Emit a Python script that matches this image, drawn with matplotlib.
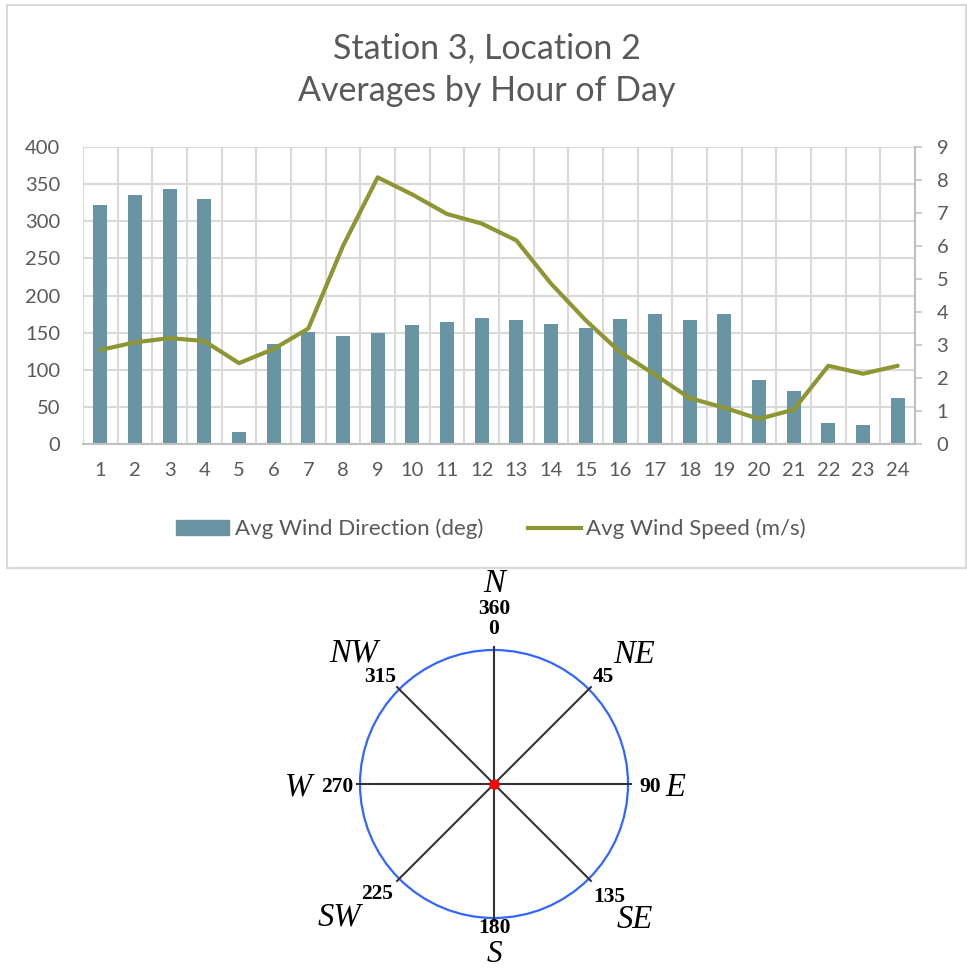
import numpy as np
import matplotlib
matplotlib.use("Agg")
import matplotlib.pyplot as plt
from matplotlib.patches import Rectangle, Circle, Patch
from matplotlib.lines import Line2D

# hourly averages
hours = list(range(1, 25))
wind_dir = [322, 336, 343, 330, 16, 135, 151, 146, 149, 160, 164, 170,
            167, 162, 156, 168, 175, 167, 175, 86, 72, 28, 26, 62]
wind_speed = [2.85, 3.08, 3.21, 3.12, 2.45, 2.88, 3.5, 6.0, 8.08, 7.56, 6.97, 6.68,
              6.17, 4.86, 3.75, 2.78, 2.1, 1.39, 1.1, 0.76, 1.04, 2.37, 2.13, 2.37]
dir_ticks = [0, 50, 100, 150, 200, 250, 300, 350, 400]
speed_ticks = [0, 1, 2, 3, 4, 5, 6, 7, 8, 9]
title_lines = ["Station 3, Location 2", "Averages by Hour of Day"]
series_names = ["Avg Wind Direction (deg)", "Avg Wind Speed (m/s)"]

# compass rose
compass_deg = [0, 45, 90, 135, 180, 225, 270, 315]
compass_names = ["N", "NE", "E", "SE", "S", "SW", "W", "NW"]
full_turn = 360

BAR = "#6894a4"
LINE = "#8e9533"
GRID = "#d9d9d9"
AXIS = "#bfbfbf"
TEXT = "#595959"
W, H = 967, 971


def fig_box(left, top, right, bottom):
    """pixel box -> figure fraction rect"""
    return [left / W, 1 - bottom / H, (right - left) / W, (bottom - top) / H]


def main():
    plt.rcParams["font.family"] = ["Lato", "DejaVu Sans"]
    fig = plt.figure(figsize=(W / 100, H / 100), dpi=100)

    # chart frame
    fig.add_artist(Rectangle((7 / W, 1 - 568 / H), 959 / W, 563 / H,
                             transform=fig.transFigure, fill=False,
                             edgecolor=GRID, lw=1.5))
    fig.text(486.5 / W, 1 - 58 / H, title_lines[0], ha="center", va="baseline",
             fontsize=24.5, color=TEXT)
    fig.text(486.5 / W, 1 - 101 / H, title_lines[1], ha="center", va="baseline",
             fontsize=24.5, color=TEXT)

    ax = fig.add_axes(fig_box(83, 147, 915, 444))
    ax.bar(hours, wind_dir, width=0.4, color=BAR, zorder=2)
    ax.set_xlim(0.5, 24.5)
    ax.set_ylim(0, 400)
    ax.set_yticks(dir_ticks)
    ax.set_xticks(hours)
    ax.set_xticks(np.arange(0.5, 25, 1), minor=True)
    ax.set_axisbelow(True)
    ax.grid(axis="y", which="major", color=GRID, lw=1.5)
    ax.grid(axis="x", which="minor", color=GRID, lw=1.5)
    ax.tick_params(axis="both", which="both", length=0, labelsize=14.5,
                   labelcolor=TEXT)
    ax.tick_params(axis="y", pad=16.5)
    ax.tick_params(axis="x", pad=13)
    for side in ["top", "right", "left"]:
        ax.spines[side].set_visible(False)
    ax.spines["bottom"].set_color(AXIS)
    ax.spines["bottom"].set_linewidth(1.5)

    ax2 = ax.twinx()
    ax2.plot(hours, wind_speed, color=LINE, lw=3, solid_capstyle="round",
             zorder=3)
    ax2.set_ylim(0, 9)
    ax2.set_yticks(speed_ticks)
    ax2.tick_params(axis="y", length=5, width=1.1, color=AXIS, pad=10.5,
                    labelsize=14.5, labelcolor=TEXT)
    for side in ["top", "left", "bottom"]:
        ax2.spines[side].set_visible(False)
    ax2.spines["right"].set_color(AXIS)
    ax2.spines["right"].set_linewidth(1.5)

    handles = [Patch(color=BAR), Line2D([], [], color=LINE, lw=3)]
    fig.legend(handles, series_names, ncol=2, loc="center",
               bbox_to_anchor=(491 / W, 1 - 529 / H), frameon=False,
               fontsize=16, labelcolor=TEXT, handlelength=2.4,
               handletextpad=0.25, columnspacing=2.0)

    # compass, one data unit = one pixel, origin at the centre
    cax = fig.add_axes(fig_box(270, 570, 720, 971))
    cax.set_xlim(-224, 226)
    cax.set_ylim(-187, 214)
    cax.axis("off")

    cax.add_patch(Circle((0, 0), 134, fill=False, edgecolor="#3366ff", lw=1.6))
    for d in compass_deg:
        th = np.radians(d)
        cax.plot([0, 137 * np.sin(th)], [0, 137 * np.cos(th)],
                 color="#333333", lw=1.5)
    cax.plot(0, 0, "o", ms=6.5, color="red", zorder=5)

    serif = ["Liberation Serif", "DejaVu Serif"]

    def polar_text(bearing, r, s, **kw):
        th = np.radians(bearing)
        cax.text(r * np.sin(th), r * np.cos(th), s, ha="center",
                 va="center_baseline", family=serif, color="black", **kw)

    num_pos = {0: (0, 157), 45: (45, 155), 90: (90, 156), 135: (133.7, 160),
               180: (180, 141), 225: (227.6, 159), 270: (270, 157),
               315: (314, 158)}
    for d in compass_deg:
        b, r = num_pos[d]
        polar_text(b, r, str(d), fontsize=15.5, weight="bold")
    polar_text(0, 178, str(full_turn), fontsize=15.5, weight="bold")

    name_pos = {"N": (0, 204), "NE": (46.7, 193), "E": (90, 181),
                "SE": (133.3, 193), "S": (180, 167), "SW": (230, 202),
                "W": (270, 196), "NW": (313.7, 194)}
    for name in compass_names:
        b, r = name_pos[name]
        size = 22.5 if name == "S" else 23.5
        polar_text(b, r, name, fontsize=size, style="italic")

    fig.savefig("out.png", dpi=100)


if __name__ == "__main__":
    main()
